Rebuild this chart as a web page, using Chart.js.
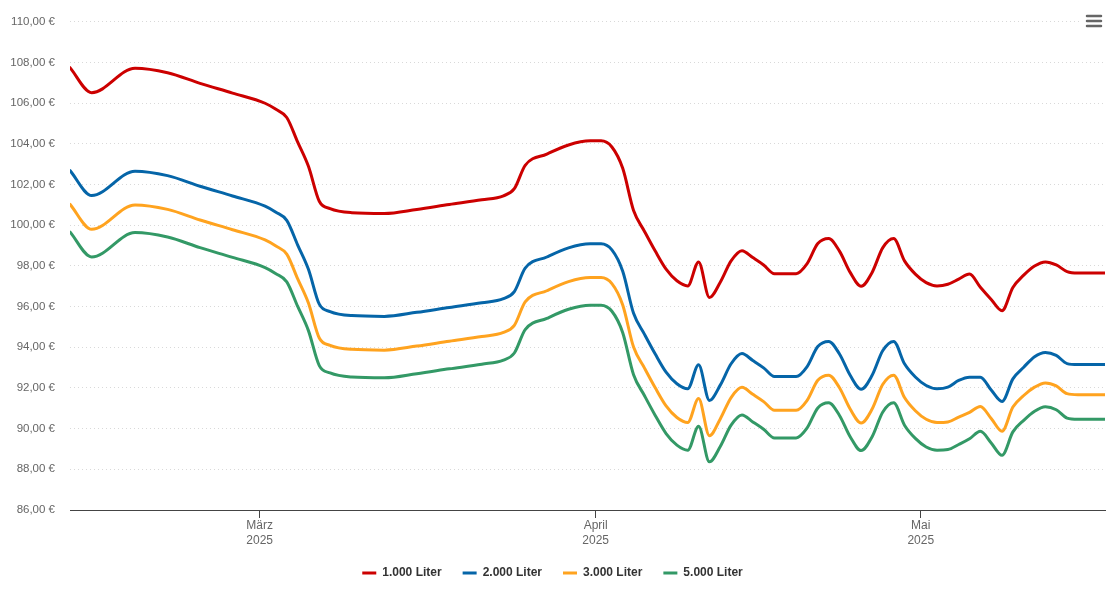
<!DOCTYPE html>
<html>
<head>
<meta charset="utf-8">
<script src="https://cdn.jsdelivr.net/npm/chart.js@4"></script>
<style>
  body { margin: 0; background: #fff; }
  #box { width: 1115px; height: 608px; }
</style>
</head>
<body>
<div id="box"><canvas id="priceChart"></canvas></div>
<script>
// dates of the price points (each taken at noon)
const dates = [
  "2025-02-11", "2025-02-13", "2025-02-17", "2025-02-20", "2025-02-23", "2025-02-26",
  "2025-03-01", "2025-03-02", "2025-03-03", "2025-03-04", "2025-03-05", "2025-03-06", "2025-03-07", "2025-03-09",
  "2025-03-12", "2025-03-15", "2025-03-18", "2025-03-21", "2025-03-23", "2025-03-24", "2025-03-25", "2025-03-27",
  "2025-03-29", "2025-03-31", "2025-04-01", "2025-04-02", "2025-04-03", "2025-04-04", "2025-04-05", "2025-04-06",
  "2025-04-07", "2025-04-08", "2025-04-09", "2025-04-10", "2025-04-11", "2025-04-12", "2025-04-13", "2025-04-14",
  "2025-04-15", "2025-04-16", "2025-04-17", "2025-04-18", "2025-04-19", "2025-04-20", "2025-04-21", "2025-04-22",
  "2025-04-23", "2025-04-24", "2025-04-25", "2025-04-26", "2025-04-27", "2025-04-28", "2025-04-29", "2025-04-30",
  "2025-05-01", "2025-05-02", "2025-05-03", "2025-05-04", "2025-05-05", "2025-05-06", "2025-05-07", "2025-05-08",
  "2025-05-09", "2025-05-10", "2025-05-11", "2025-05-12", "2025-05-13", "2025-05-14", "2025-05-15", "2025-05-16",
  "2025-05-17", "2025-05-18"
];

// price per 100 liters, one list per order size
const liter1000 = [
  107.75, 106.52, 107.72, 107.5, 106.98, 106.5,
  106.0, 105.7, 105.3, 104.1, 102.9, 101.18, 100.82, 100.62,
  100.58, 100.78, 101.02, 101.25, 101.45, 101.8, 102.95, 103.5,
  103.95, 104.15, 104.15, 103.85, 102.8, 100.73, 99.71, 98.73,
  97.84, 97.27, 97.02, 98.2, 96.45, 97.2, 98.25, 98.75,
  98.41, 98.05, 97.62, 97.62, 97.62, 98.1, 99.1, 99.35,
  98.73, 97.67, 97.0, 97.67, 98.9, 99.35, 98.25, 97.6,
  97.18, 97.02, 97.1, 97.35, 97.6, 96.95, 96.35, 95.8,
  96.94, 97.55, 98.0, 98.2, 98.05, 97.72, 97.65, 97.65,
  97.65, 97.65
];
const liter2000 = [
  102.69, 101.46, 102.66, 102.44, 101.92, 101.44,
  100.94, 100.64, 100.24, 99.04, 97.84, 96.12, 95.76, 95.56,
  95.52, 95.72, 95.96, 96.19, 96.39, 96.74, 97.89, 98.44,
  98.89, 99.09, 99.09, 98.79, 97.74, 95.67, 94.65, 93.67,
  92.78, 92.21, 91.96, 93.14, 91.39, 92.14, 93.19, 93.69,
  93.35, 92.99, 92.56, 92.56, 92.56, 93.04, 94.04, 94.29,
  93.67, 92.61, 91.94, 92.61, 93.84, 94.29, 93.19, 92.54,
  92.12, 91.96, 92.04, 92.37, 92.53, 92.53, 91.9, 91.34,
  92.45, 93.02, 93.54, 93.75, 93.6, 93.2, 93.15, 93.15,
  93.15, 93.15
];
const liter3000 = [
  101.03, 99.8, 101.0, 100.78, 100.26, 99.78,
  99.28, 98.98, 98.58, 97.38, 96.18, 94.46, 94.1, 93.9,
  93.86, 94.06, 94.3, 94.53, 94.73, 95.08, 96.23, 96.78,
  97.23, 97.43, 97.43, 97.13, 96.08, 94.01, 92.99, 92.01,
  91.12, 90.55, 90.3, 91.48, 89.65, 90.48, 91.53, 92.03,
  91.69, 91.33, 90.9, 90.9, 90.9, 91.38, 92.38, 92.63,
  92.01, 90.95, 90.28, 90.95, 92.18, 92.63, 91.53, 90.88,
  90.46, 90.3, 90.33, 90.57, 90.8, 91.09, 90.5, 89.87,
  91.06, 91.63, 92.04, 92.25, 92.1, 91.72, 91.67, 91.67,
  91.67, 91.67
];
const liter5000 = [
  99.67, 98.44, 99.64, 99.42, 98.9, 98.42,
  97.92, 97.62, 97.22, 96.02, 94.82, 93.1, 92.74, 92.54,
  92.5, 92.7, 92.94, 93.17, 93.37, 93.72, 94.87, 95.42,
  95.87, 96.07, 96.07, 95.77, 94.72, 92.65, 91.63, 90.65,
  89.76, 89.19, 88.94, 90.12, 88.37, 89.12, 90.17, 90.67,
  90.33, 89.97, 89.54, 89.54, 89.54, 90.02, 91.02, 91.27,
  90.65, 89.59, 88.92, 89.59, 90.82, 91.27, 90.17, 89.52,
  89.1, 88.94, 88.97, 89.22, 89.5, 89.87, 89.3, 88.69,
  89.84, 90.41, 90.86, 91.08, 90.93, 90.52, 90.46, 90.46,
  90.46, 90.46
];

// month ticks on the x axis
const monthTicks = ["2025-03-01", "2025-04-01", "2025-05-01"];
const monthNames = ["März", "April", "Mai"];

const seriesNames = ["1.000 Liter", "2.000 Liter", "3.000 Liter", "5.000 Liter"];
const seriesColors = ["#cc0000", "#0565a8", "#ffa31f", "#339966"];

function noon(d) {
  return Date.parse(d + "T12:00:00Z");
}
function midnight(d) {
  return Date.parse(d + "T00:00:00Z");
}

function chartRender() {
  const ctx = document.getElementById("priceChart");
  const allSeries = [liter1000, liter2000, liter3000, liter5000];

  // build datasets from the lists above
  const datasets = [];
  for (let i = 0; i < allSeries.length; i++) {
    datasets.push({
      label: seriesNames[i],
      data: dates.map((d, j) => ({ x: noon(d), y: allSeries[i][j] })),
      borderColor: seriesColors[i],
      backgroundColor: seriesColors[i],
      borderWidth: 3,
      borderCapStyle: "round",
      pointRadius: 0,
      cubicInterpolationMode: "monotone",
    });
  }

  // hamburger button top right
  const menuButton = {
    id: "menuButton",
    afterDraw(chart) {
      const c = chart.ctx;
      c.save();
      c.fillStyle = "#fff";
      c.fillRect(1080, 6, 30, 30);
      c.strokeStyle = "#666";
      c.lineWidth = 2.5;
      c.lineCap = "round";
      [16, 21, 26].forEach((y) => {
        c.beginPath();
        c.moveTo(1087, y);
        c.lineTo(1101, y);
        c.stroke();
      });
      c.restore();
    },
  };

  Chart.defaults.font.family = '"Liberation Sans", Arial, Helvetica, sans-serif';

  new Chart(ctx, {
    type: "line",
    data: { datasets: datasets },
    plugins: [menuButton],
    options: {
      responsive: true,
      maintainAspectRatio: false,
      animation: false,
      layout: { padding: { top: 17, right: 10, bottom: 19, left: 0 } },
      plugins: {
        tooltip: { enabled: false },
        legend: {
          position: "bottom",
          labels: {
            usePointStyle: true,
            pointStyle: "line",
            pointStyleWidth: 14,
            padding: 21,
            color: "#333",
            font: { size: 12, weight: "bold" },
          },
        },
      },
      scales: {
        x: {
          type: "linear",
          min: noon("2025-02-11"),
          max: midnight("2025-05-18"),
          afterBuildTicks(scale) {
            scale.ticks = monthTicks.map((d) => ({ value: midnight(d) }));
          },
          afterFit(scale) {
            scale.height = 36;
          },
          grid: {
            drawOnChartArea: false,
            tickLength: 8,
            tickColor: "#444",
          },
          border: { color: "#444", width: 1 },
          ticks: {
            autoSkip: false,
            maxRotation: 0,
            padding: 0,
            color: "#666",
            font: { size: 12, lineHeight: 1.25 },
            callback(value) {
              const i = monthTicks.findIndex((d) => midnight(d) === value);
              return i >= 0 ? [monthNames[i], "2025"] : "";
            },
          },
        },
        y: {
          min: 86,
          max: 110,
          afterFit(scale) {
            scale.width = 70;
          },
          grid: {
            color: "#d9d9d9",
            drawTicks: false,
          },
          border: { display: false, dash: [1, 3] },
          ticks: {
            stepSize: 2,
            padding: 15,
            color: "#666",
            font: { size: 11.5 },
            callback(value) {
              return value.toFixed(2).replace(".", ",") + " €";
            },
          },
        },
      },
    },
  });
}

chartRender();
</script>
</body>
</html>
